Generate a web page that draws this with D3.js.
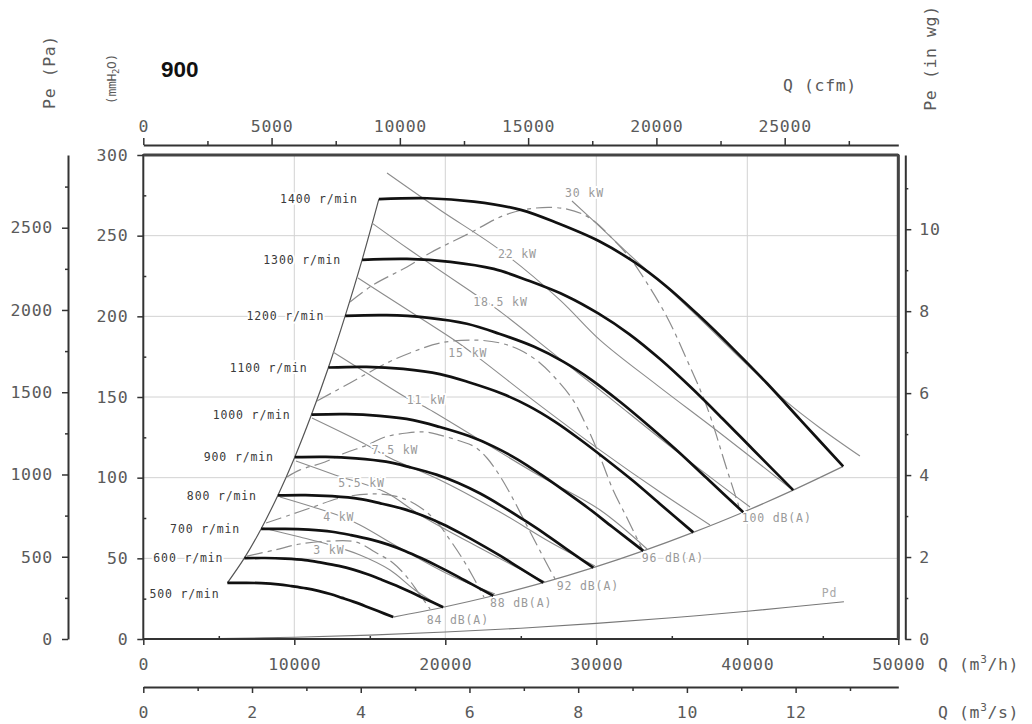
<!DOCTYPE html>
<html><head><meta charset="utf-8">
<script src="https://cdn.jsdelivr.net/npm/d3@7"></script>
<style>
body{margin:0;background:#fff;}
svg{display:block;}
.lbl{font-family:"DejaVu Sans Mono",monospace;font-size:11.5px;letter-spacing:0.85px;paint-order:stroke;stroke:#fff;stroke-width:4px;stroke-linejoin:round;}
.ax text{font-family:"DejaVu Sans Mono",monospace;font-size:16.5px;letter-spacing:0.7px;fill:#5a5a5a;}
.ttl{font-family:"DejaVu Sans Mono",monospace;font-size:16.5px;letter-spacing:0.6px;fill:#5a5a5a;}
</style></head><body>
<svg id="c" width="1032" height="724"></svg>
<script>
// ---------- DATA (Q in m3/h, Pe in mmH2O) ----------
const speeds = [500,600,700,800,900,1000,1100,1200,1300,1400];
const rpm500  = [[5570,34.8],[6710,34.8],[7820,34.6],[8930,33.9],[9820,32.8],[10790,31.4],[11590,29.8],[12380,27.9],[13160,25.5],[13950,23.0],[14750,20.2],[15540,17.3],[16550,13.6]];
const rpm600  = [[6690,50.1],[8060,50.2],[9390,49.8],[10710,48.9],[11790,47.3],[12940,45.3],[13910,43.0],[14850,40.1],[15790,36.7],[16740,33.1],[17700,29.1],[18640,25.0],[19860,19.7]];
const rpm700  = [[7800,68.2],[9400,68.3],[10950,67.8],[12500,66.5],[13750,64.4],[15100,61.6],[16230,58.5],[17330,54.6],[18430,50.0],[19530,45.0],[20650,39.6],[21750,34.0],[23180,26.8]];
const rpm800  = [[8910,89.0],[10740,89.2],[12510,88.5],[14290,86.9],[15710,84.1],[17260,80.5],[18540,76.4],[19800,71.3],[21060,65.3],[22310,58.8],[23600,51.8],[24860,44.4],[26490,34.9]];
const rpm900  = [[10030,112.7],[12090,112.9],[14080,112.0],[16070,109.9],[17680,106.4],[19410,101.9],[20860,96.7],[22280,90.3],[23690,82.7],[25100,74.4],[26550,65.5],[27960,56.2],[29800,44.2]];
const rpm1000 = [[11140,139.1],[13430,139.4],[15640,138.3],[17860,135.7],[19640,131.4],[21570,125.8],[23180,119.4],[24750,111.5],[26320,102.0],[27890,91.8],[29500,80.9],[31070,69.4],[33110,54.6]];
const rpm1100 = [[12260,168.3],[14770,168.7],[17210,167.4],[19640,164.2],[21610,159.0],[23730,152.2],[25500,144.5],[27230,134.9],[28950,123.5],[30680,111.1],[32450,97.9],[34180,84.0],[36420,66.1]];
const rpm1200 = [[13370,200.3],[16110,200.7],[18770,199.2],[21430,195.4],[23570,189.2],[25890,181.1],[27810,171.9],[29700,160.5],[31590,146.9],[33470,132.2],[35400,116.4],[37290,99.9],[39730,78.6]];
const rpm1300 = [[14490,235.0],[17460,235.6],[20340,233.8],[23210,229.4],[25540,222.0],[28040,212.5],[30130,201.8],[32180,189.0],[34220,173.5],[36260,156.0],[38350,136.7],[40390,117.3],[43040,92.3]];
const rpm1400 = [[15600,272.6],[18800,273.2],[21900,271.1],[25000,266.0],[27500,257.5],[30200,246.5],[32450,234.0],[34650,218.5],[36850,200.0],[39050,180.0],[41300,158.5],[43500,136.0],[46350,107.0]];

// power iso-lines (kW)
const powerNames = ["30 kW","22 kW","18.5 kW","15 kW","11 kW","7.5 kW","5.5 kW","4 kW","3 kW"];
const kw30  = [[28390,271.5],[30250,255.4],[32430,236.2],[34680,217.6],[36870,198.4],[39050,178.5],[40840,162.4],[42630,146.8],[44820,130.8],[47460,113.4]];
const kw22  = [[16140,288.8],[19650,265.9],[23620,241.1],[27600,210.1],[30250,185.3],[34020,157.4],[38190,127.7],[42830,93.6]];
const kw18_5= [[15150,257.8],[17660,241.1],[21840,214.5],[23420,204.5],[27600,173.6],[30250,154.3],[35210,117.1],[40180,81.8]];
const kw15  = [[14220,223.8],[17000,207.0],[20780,184.1],[22300,173.6],[25810,148.1],[30250,117.1],[34220,91.1],[37530,70.7]];
const kw11  = [[12560,177.9],[15010,163.6],[17460,149.4],[18660,143.8],[22300,123.3],[26270,101.0],[30250,80.0],[33360,55.8]];
const kw7_5 = [[11170,137.0],[14550,121.5],[16340,112.2],[19650,98.6],[23620,78.7],[26930,60.1],[29910,45.2]];
const kw5_5 = [[10110,110.3],[12700,101.7],[16010,91.1],[18330,76.9],[22300,56.4],[26600,35.3]];
const kw4   = [[9050,88.0],[11240,81.8],[13030,76.2],[14350,70.7],[17000,56.4],[20310,39.7],[23290,27.9]];
const kw3   = [[7930,68.8],[10380,63.2],[12360,58.3],[14350,52.1],[16340,42.8],[17990,30.4],[19650,20.5]];
// label anchors (Q, Pe) for the kW lines
const powerLabelQ = [27930,23490,21850,20200,17440,15130,12910,11920,11260];
const powerLabelP = [276.4,238.9,209.1,177.1,148.1,117.1,96.5,75.8,55.2];

// dashed efficiency curves
const eff1 = [[13690,208.9],[15210,219.4],[17460,230.6],[18990,239.3],[21640,251.7],[23950,262.8],[25940,267.1],[28060,266.5],[29580,260.9],[31040,248.5],[32230,236.2],[33230,222.5],[34680,199.6],[36010,172.9],[37330,143.8],[38660,104.8],[39520,80.0]];
const eff2 = [[11500,147.5],[13690,158.7],[16140,171.1],[17660,177.3],[19650,183.5],[21840,185.3],[23620,183.5],[24950,179.1],[26270,171.1],[27400,160.5],[28460,148.1],[29380,131.4],[30250,112.8],[31110,92.4],[32100,73.8],[33070,55.0]];
const eff3 = [[9520,100.4],[10380,104.8],[12030,109.7],[13360,115.3],[14820,120.2],[16010,125.2],[17460,127.7],[18660,128.3],[19650,126.4],[20970,122.7],[21970,119.0],[22760,112.2],[23620,101.0],[24420,88.0],[25210,73.8],[26070,58.3],[26800,45.2],[27270,37.2]];
const eff4 = [[8130,71.9],[9720,76.9],[11240,81.8],[13030,87.4],[15010,89.9],[16670,88.6],[17990,83.7],[19320,73.8],[20310,61.4],[21110,50.2],[21770,39.7],[22560,26.0]];
const eff5 = [[6870,51.4],[8720,55.2],[10380,58.9],[12360,60.7],[14090,60.1],[15340,53.9],[16540,47.1],[17460,38.4],[18190,29.1],[18990,18.6]];

// dynamic pressure
const pd = [[5000,0.3],[10000,1.1],[15000,2.4],[20000,4.3],[25000,6.7],[30000,9.7],[35000,13.2],[40000,17.2],[46400,23.1]];

// noise labels
const dbNames = ["84 dB(A)","88 dB(A)","92 dB(A)","96 dB(A)","100 dB(A)"];
const dbLabelQ = [18770,22960,27380,33010,39630];
const dbLabelP = [11.8,22.1,33.2,50.0,74.8];

// ticks
const mhTicks = [0,10000,20000,30000,40000,50000];
const mhMinor = [5000,15000,25000,35000,45000];
const mmTicks = [0,50,100,150,200,250,300];
const mmMinor = [25,75,125,175,225,275];
const cfmTicks = [0,5000,10000,15000,20000,25000];
const cfmMinor = [2500,7500,12500,17500,22500,27500];
const m3sTicks = [0,2,4,6,8,10,12];
const m3sMinor = [1,3,5,7,9,11,13];
const paTicks = [0,500,1000,1500,2000,2500];
const paMinor = [250,750,1250,1750,2250,2750];
const inwgTicks = [0,2,4,6,8,10];
const inwgMinor = [1,3,5,7,9,11];
const gridQ = [10000,20000,30000,40000];
const gridP = [50,100,150,200,250];

// ---------- DRAW ----------
const svg = d3.select("#c");
const x = d3.scaleLinear().domain([0,50000]).range([143.3,898.3]);
const y = d3.scaleLinear().domain([0,300]).range([639,155]);
const xCfm = d3.scaleLinear().domain([0,50000/1.699011]).range(x.range());
const xM3s = d3.scaleLinear().domain([0,50000/3600]).range(x.range());
const yPa  = d3.scaleLinear().domain([0,300*9.80665]).range(y.range());
const yIn  = d3.scaleLinear().domain([0,300/25.4]).range(y.range());

const line = d3.line().x(d=>x(d[0])).y(d=>y(d[1])).curve(d3.curveCatmullRom.alpha(0.5));

// grid
const g = svg.append("g");
g.selectAll(".gv").data(gridQ).join("line")
  .attr("x1",d=>x(d)).attr("x2",d=>x(d)).attr("y1",y(0)).attr("y2",y(300))
  .attr("stroke","#d2d2d2").attr("stroke-width",1);
g.selectAll(".gh").data(gridP).join("line")
  .attr("y1",d=>y(d)).attr("y2",d=>y(d)).attr("x1",x(0)).attr("x2",x(50000))
  .attr("stroke","#d2d2d2").attr("stroke-width",1);

const curves = [rpm500,rpm600,rpm700,rpm800,rpm900,rpm1000,rpm1100,rpm1200,rpm1300,rpm1400];

// Pd
svg.append("path").attr("d",line(pd)).attr("fill","none").attr("stroke","#777").attr("stroke-width",1.1);
// left (stall) boundary and noise boundary
svg.append("path").attr("d",line(curves.map(c=>c[0]))).attr("fill","none").attr("stroke","#555").attr("stroke-width",1.2);
svg.append("path").attr("d",line(curves.map(c=>c[c.length-1]))).attr("fill","none").attr("stroke","#808080").attr("stroke-width",1.2);

// power lines
const powerLines = [kw30,kw22,kw18_5,kw15,kw11,kw7_5,kw5_5,kw4,kw3];
svg.append("g").selectAll("path").data(powerLines).join("path")
  .attr("d",d=>line(d)).attr("fill","none").attr("stroke","#8c8c8c").attr("stroke-width",1.1);

// dashed curves
svg.append("g").selectAll("path").data([eff1,eff2,eff3,eff4,eff5]).join("path")
  .attr("d",d=>line(d)).attr("fill","none").attr("stroke","#8c8c8c").attr("stroke-width",1.2)
  .attr("stroke-dasharray","16,5,4,5");

// labels (with white halo, drawn before thick curves)
const lab = svg.append("g");
lab.selectAll(".pw").data(powerNames).join("text").attr("class","lbl")
  .attr("x",(d,i)=>x(powerLabelQ[i])).attr("y",(d,i)=>y(powerLabelP[i])).attr("dy","0.36em")
  .attr("fill","#9a9a9a").text(d=>d);
lab.selectAll(".db").data(dbNames).join("text").attr("class","lbl")
  .attr("x",(d,i)=>x(dbLabelQ[i])).attr("y",(d,i)=>y(dbLabelP[i])).attr("dy","0.36em")
  .attr("fill","#9a9a9a").text(d=>d);
lab.append("text").attr("class","lbl").attr("x",x(44930)).attr("y",y(28.3)).attr("dy","0.36em")
  .attr("fill","#a8a8a8").text("Pd");
lab.selectAll(".rp").data(speeds).join("text").attr("class","lbl")
  .attr("text-anchor","end")
  .attr("x",(d,i)=>x(curves[i][0][0]) - (d===500 ? 8 : 21))
  .attr("y",(d,i)=>y(curves[i][0][1]) + (d===500 ? 11 : 0)).attr("dy","0.36em")
  .attr("fill","#3a3a3a").text(d=>d+" r/min");

// rpm curves
svg.append("g").selectAll("path").data(curves).join("path")
  .attr("d",d=>line(d)).attr("fill","none").attr("stroke","#111").attr("stroke-width",2.7)
  .attr("stroke-linecap","butt");

// frame
svg.append("rect").attr("x",x(0)).attr("y",y(300)).attr("width",x(50000)-x(0)).attr("height",y(0)-y(300))
  .attr("fill","none").attr("stroke","#333").attr("stroke-width",2);
svg.append("line").attr("x1",x(0)).attr("x2",x(50000)).attr("y1",y(300)).attr("y2",y(300)).attr("stroke","#444").attr("stroke-width",3);
svg.append("line").attr("x1",x(50000)).attr("x2",x(50000)).attr("y1",y(300)).attr("y2",y(0)).attr("stroke","#444").attr("stroke-width",3);

function style(sel, showDomain){
  sel.select(".domain").attr("stroke", showDomain ? "#333" : "none").attr("stroke-width",2);
  sel.selectAll(".tick line").attr("stroke","#333").attr("stroke-width",1.5);
  sel.attr("font-family",null).attr("font-size",null);
  sel.classed("ax",true);
}
// main bottom axis (m3/h)
svg.append("g").attr("transform",`translate(0,${y(0)})`)
  .call(d3.axisBottom(x).tickValues(mhTicks).tickSize(6).tickPadding(13).tickSizeOuter(0).tickFormat(d3.format("d")))
  .call(s=>style(s,false));
svg.append("g").attr("transform",`translate(0,${y(0)})`)
  .call(d3.axisTop(x).tickValues(mhMinor).tickSize(3).tickSizeOuter(0).tickFormat(""))
  .call(s=>style(s,false));
// main left axis (mmH2O)
svg.append("g").attr("transform",`translate(${x(0)},0)`)
  .call(d3.axisLeft(y).tickValues(mmTicks).tickSize(6).tickPadding(9).tickSizeOuter(0).tickFormat(d3.format("d")))
  .call(s=>style(s,false));
svg.append("g").attr("transform",`translate(${x(0)},0)`)
  .call(d3.axisRight(y).tickValues(mmMinor).tickSize(3).tickSizeOuter(0).tickFormat(""))
  .call(s=>style(s,false));
// top cfm axis
svg.append("g").attr("transform","translate(0,145)")
  .call(d3.axisTop(xCfm).tickValues(cfmTicks).tickSize(7).tickPadding(6).tickSizeOuter(0).tickFormat(d3.format("d")))
  .call(s=>style(s,true));
svg.append("g").attr("transform","translate(0,145)")
  .call(d3.axisTop(xCfm).tickValues(cfmMinor).tickSize(4).tickSizeOuter(0).tickFormat(""))
  .call(s=>style(s,false));
// bottom m3/s axis
svg.append("g").attr("transform","translate(0,687)")
  .call(d3.axisBottom(xM3s).tickValues(m3sTicks).tickSize(6).tickPadding(13).tickSizeOuter(0).tickFormat(d3.format("d")))
  .call(s=>style(s,true));
svg.append("g").attr("transform","translate(0,687)")
  .call(d3.axisBottom(xM3s).tickValues(m3sMinor).tickSize(4).tickSizeOuter(0).tickFormat(""))
  .call(s=>style(s,false));
// left Pa axis
svg.append("g").attr("transform","translate(68,0)")
  .call(d3.axisLeft(yPa).tickValues(paTicks).tickSize(6).tickPadding(9).tickSizeOuter(0).tickFormat(d3.format("d")))
  .call(s=>style(s,true));
svg.append("g").attr("transform","translate(68,0)")
  .call(d3.axisLeft(yPa).tickValues(paMinor).tickSize(3).tickSizeOuter(0).tickFormat(""))
  .call(s=>style(s,false));
// right in wg axis
svg.append("g").attr("transform","translate(905.3,0)")
  .call(d3.axisRight(yIn).tickValues(inwgTicks).tickSize(6).tickPadding(8).tickSizeOuter(0).tickFormat(d3.format("d")))
  .call(s=>style(s,true));
svg.append("g").attr("transform","translate(905.3,0)")
  .call(d3.axisRight(yIn).tickValues(inwgMinor).tickSize(3).tickSizeOuter(0).tickFormat(""))
  .call(s=>style(s,false));

// titles
svg.append("text").attr("class","ttl").attr("transform","translate(55,72) rotate(-90)").attr("text-anchor","middle").text("Pe (Pa)");
const mm = svg.append("text").attr("class","ttl").attr("transform","translate(116,79) rotate(-90)").attr("text-anchor","middle")
  .style("font-size","13px").style("letter-spacing","-0.3px").attr("fill","#444");
mm.append("tspan").text("(mmH");
mm.append("tspan").attr("font-size","9px").attr("dy","3").text("2");
mm.append("tspan").attr("dy","-3").text("O)");
svg.append("text").attr("class","ttl").attr("transform","translate(936,58) rotate(-90)").attr("text-anchor","middle").text("Pe (in wg)");
svg.append("text").attr("class","ttl").attr("x",783).attr("y",91).text("Q (cfm)");
function qlab(yy, unit){
  const t = svg.append("text").attr("class","ttl").attr("x",938).attr("y",yy);
  t.append("tspan").text("Q (m");
  t.append("tspan").attr("font-size","11px").attr("dy","-7").text("3");
  t.append("tspan").attr("dy","7").text("/"+unit+")");
}
qlab(670,"h");
qlab(718,"s");
svg.append("text").attr("x",161).attr("y",77).attr("font-family","'Liberation Sans',Arial,sans-serif")
  .attr("font-weight","bold").attr("font-size","22.5px").attr("fill","#111").text("900");
</script>
</body></html>
